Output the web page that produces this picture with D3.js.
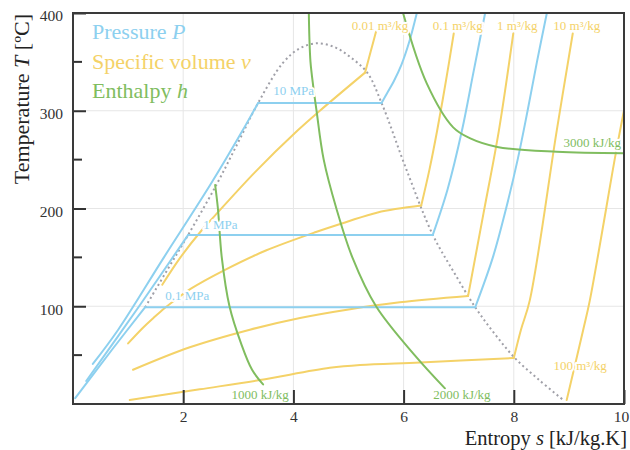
<!DOCTYPE html>
<html>
<head>
<meta charset="utf-8">
<script src="https://cdnjs.cloudflare.com/ajax/libs/d3/7.8.5/d3.min.js"></script>
<style>
  body { margin: 0; background: #fff; }
  text { font-family: "Liberation Serif", "DejaVu Serif", serif; }
</style>
</head>
<body>
<div id="chart"></div>
<script>
// all points are [entropy s (kJ/kg.K), temperature T (C)]
var xTicks = [2, 4, 6, 8, 10];
var yTicks = [100, 200, 300, 400];
var yMinorTicks = [50, 150, 250, 350];

// saturation dome (dotted)
var domeLine = [[1.31,99],[1.72,138],[2.09,173],[2.61,225],[3.0,268],[3.36,308],[3.81,349],[4.12,364],[4.43,369],
  [4.75,365],[5.03,355],[5.34,339],[5.6,308],[6.05,240],[6.53,173],[6.9,136],[7.3,99],[7.65,72],[8.02,47],[8.45,25],[8.9,4]];

// isobars
var pressureLabels = ["0.1 MPa", "1 MPa", "10 MPa"];
var pressureLiquid = [
  [[0.04,6],[0.7,55],[1.31,99]],
  [[0.24,23.5],[1.2,100],[2.09,173]],
  [[0.36,41],[0.82,76],[1.65,150],[2.5,225],[3.08,280],[3.36,308]]
];
var pressureVapour = [
  [[7.3,99],[7.62,150],[7.86,200],[8.07,250],[8.25,300],[8.42,350],[8.6,400]],
  [[6.53,173],[6.8,220],[7.06,280],[7.27,340],[7.48,400]],
  [[5.6,308],[5.7,318],[5.82,330],[5.96,347],[6.1,370],[6.24,400]]
];

// isochores
var volumeLabels = ["0.01 m³/kg", "0.1 m³/kg", "1 m³/kg", "10 m³/kg", "100 m³/kg"];
var volumeWet = [
  [[1.62,122],[1.95,150],[2.34,178],[2.58,193],[3.3,237],[4.08,280],[4.48,300],[5.3,339]],
  [[1.0,62],[1.27,78],[1.46,88],[1.66,98],[1.89,108],[2.14,118],[2.75,137],[3.5,157],[4.41,176],[4.95,186],[5.53,196],[6.32,203]],
  [[1.09,35],[2.12,58],[3.21,76],[4.12,88],[5.03,97],[5.93,104],[7.17,110.5]],
  [[1.03,4],[2.3,15],[3.39,24.5],[4.66,37],[5.21,40],[6.3,42.5],[8.0,47]],
  []
];
var volumeSuper = [
  [[5.3,339],[5.4,360],[5.5,381]],
  [[6.32,203],[6.47,240],[6.61,280],[6.77,331],[6.91,379]],
  [[7.17,110.5],[7.45,195],[7.73,280],[7.99,379]],
  [[8.0,47],[8.13,76],[8.29,106],[8.78,280],[9.07,379]],
  [[8.96,4],[9.26,76],[9.38,106],[9.84,253],[9.93,280],[10.05,315]]
];

// isenthalps
var enthalpyLabels = ["1000 kJ/kg", "2000 kJ/kg", "3000 kJ/kg"];
var enthalpyLines = [
  [[2.58,224],[2.63,200],[2.7,150],[2.84,100],[3.05,62],[3.25,35],[3.45,20]],
  [[4.28,400],[4.29,375],[4.31,350],[4.36,325],[4.42,300],[4.55,250],[4.78,200],[5.07,150],[5.5,100],[6.2,50],[6.75,16]],
  [[5.99,400],[6.42,328],[6.9,283],[7.2,272],[7.7,263],[8.78,258],[10,256.5]]
];

var blue = "#8dd0ef", yellow = "#f4d268", green = "#80bd5f";

var svgWidth = 630, svgHeight = 450;
var svg = d3.select("#chart").append("svg")
  .attr("width", svgWidth)
  .attr("height", svgHeight);

var x = d3.scaleLinear().domain([0, 10]).range([73, 624]);
var y = d3.scaleLinear().domain([0, 400]).range([404, 13]);

svg.append("clipPath").attr("id", "plotclip")
  .append("rect")
  .attr("x", x(0)).attr("y", y(400))
  .attr("width", x(10) - x(0)).attr("height", y(0) - y(400));

// grid
var grid = svg.append("g").attr("stroke", "#e6e6e6").attr("stroke-width", 1);
grid.selectAll(".gx").data(xTicks.slice(0, -1)).enter().append("line")
  .attr("x1", d => x(d)).attr("x2", d => x(d))
  .attr("y1", y(0)).attr("y2", y(400));
grid.selectAll(".gy").data(yTicks.slice(0, -1)).enter().append("line")
  .attr("x1", x(0)).attr("x2", x(10))
  .attr("y1", d => y(d)).attr("y2", d => y(d));

var smooth = d3.line().x(d => x(d[0])).y(d => y(d[1])).curve(d3.curveCatmullRom.alpha(0.5));
var straight = d3.line().x(d => x(d[0])).y(d => y(d[1]));

var plot = svg.append("g").attr("clip-path", "url(#plotclip)")
  .attr("fill", "none").attr("stroke-width", 2).attr("stroke-linecap", "round");

// dome
plot.append("path")
  .attr("d", smooth(domeLine))
  .attr("stroke", "#a0a0a8")
  .attr("stroke-width", 2)
  .attr("stroke-linecap", "butt")
  .attr("stroke-dasharray", "2,3");

// specific volume
volumeWet.forEach(function(pts) {
  if (pts.length) plot.append("path").attr("d", smooth(pts)).attr("stroke", yellow);
});
volumeSuper.forEach(function(pts) {
  plot.append("path").attr("d", smooth(pts)).attr("stroke", yellow);
});

// pressure
pressureLiquid.forEach(function(liq, i) {
  var vap = pressureVapour[i];
  plot.append("path").attr("d", smooth(liq)).attr("stroke", blue);
  plot.append("path").attr("d", straight([liq[liq.length - 1], vap[0]])).attr("stroke", blue);
  plot.append("path").attr("d", smooth(vap)).attr("stroke", blue);
});

// enthalpy
enthalpyLines.forEach(function(pts) {
  plot.append("path").attr("d", smooth(pts)).attr("stroke", green);
});

// line labels
var labels = svg.append("g")
  .attr("font-size", "13px")
  .attr("stroke", "#fff").attr("stroke-width", 4)
  .attr("paint-order", "stroke").attr("stroke-linejoin", "round");

pressureLabels.forEach(function(t, i) {
  var c = pressureLiquid[i][pressureLiquid[i].length - 1];
  var dx = [20, 15, 15][i], dy = [-7, -6, -8][i];
  labels.append("text").text(t)
    .attr("x", x(c[0]) + dx).attr("y", y(c[1]) + dy)
    .attr("fill", blue);
});

volumeLabels.forEach(function(t, i) {
  var pts = volumeSuper[i];
  var e = pts[pts.length - 1];
  var tx = x(e[0]) + 4, ty = 30;
  if (i === 4) { tx = x(9.15) + 3; ty = y(0) - 34; }
  labels.append("text").text(t)
    .attr("x", tx).attr("y", ty)
    .attr("text-anchor", "middle")
    .attr("fill", yellow);
});

enthalpyLabels.forEach(function(t, i) {
  var pts = enthalpyLines[i];
  var e = pts[pts.length - 1];
  var lab = labels.append("text").text(t).attr("fill", green);
  if (i < 2) {
    lab.attr("x", x(e[0]) + [-3, 17][i]).attr("y", y(0) - 5).attr("text-anchor", "middle");
  } else {
    lab.attr("x", x(10) - 3).attr("y", y(e[1]) - 6).attr("text-anchor", "end");
  }
});

// axes
var yAxis = d3.axisLeft(y).tickValues(yTicks).tickSizeInner(-13).tickSizeOuter(0).tickPadding(10);
var xAxis = d3.axisBottom(x).tickValues(xTicks).tickSizeInner(-14).tickSizeOuter(0).tickPadding(7);

var gy = svg.append("g").attr("transform", `translate(${x(0)},0)`).call(yAxis);
var gx = svg.append("g").attr("transform", `translate(0,${y(0)})`).call(xAxis);

[gx, gy].forEach(function(g) {
  g.select(".domain").remove();
  g.selectAll("line").attr("stroke", "#333").attr("stroke-width", 2);
  g.selectAll("text").attr("font-size", "15.5px").attr("fill", "#333")
    .attr("font-family", "Liberation Serif, serif");
});
gy.selectAll("text").attr("dy", "0.5em");
// keep the last x label inside the picture
gx.selectAll("text").filter(d => d === 10).attr("x", -3);

svg.append("g").selectAll("line").data(yMinorTicks).enter().append("line")
  .attr("x1", x(0)).attr("x2", x(0) + 9)
  .attr("y1", d => y(d)).attr("y2", d => y(d))
  .attr("stroke", "#333").attr("stroke-width", 2);

// frame
svg.append("rect")
  .attr("x", x(0)).attr("y", y(400))
  .attr("width", x(10) - x(0)).attr("height", y(0) - y(400))
  .attr("fill", "none").attr("stroke", "#3a3a3a").attr("stroke-width", 2);

// axis titles
var xt = svg.append("text")
  .attr("x", 627).attr("y", 445)
  .attr("text-anchor", "end")
  .attr("font-size", "20.5px").attr("fill", "#222");
xt.append("tspan").text("Entropy ");
xt.append("tspan").attr("font-style", "italic").text("s");
xt.append("tspan").text(" [kJ/kg.K]");

var yt = svg.append("text")
  .attr("transform", "translate(29,14) rotate(-90)")
  .attr("text-anchor", "end")
  .attr("font-size", "22px").attr("fill", "#222");
yt.append("tspan").text("Temperature ");
yt.append("tspan").attr("font-style", "italic").text("T");
yt.append("tspan").text(" [ºC]");

// legend
var legendNames = [["Pressure ", "P", blue], ["Specific volume ", "v", yellow], ["Enthalpy ", "h", green]];
legendNames.forEach(function(l, i) {
  var t = svg.append("text")
    .attr("x", 92).attr("y", 39 + i * 29.5)
    .attr("font-size", "22px").attr("fill", l[2]);
  t.append("tspan").text(l[0]);
  t.append("tspan").attr("font-style", "italic").text(l[1]);
});
</script>
</body>
</html>
